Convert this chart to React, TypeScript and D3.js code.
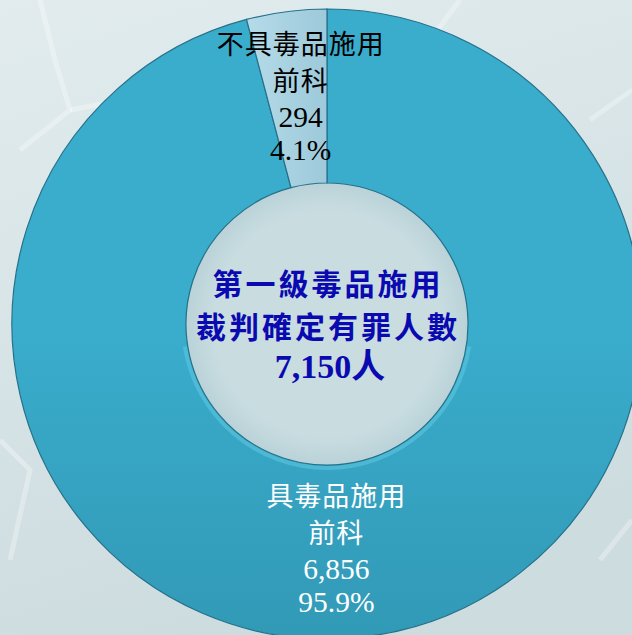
import React, { useRef, useEffect } from 'react'
import * as d3 from 'd3'

// 資料
const categories = ['具毒品施用前科', '不具毒品施用前科']
const labelLines = [
  ['具毒品施用', '前科'],
  ['不具毒品施用', '前科'],
]
const values = [6856, 294]
const percents = ['95.9%', '4.1%']
const centerLines = ['第一級毒品施用', '裁判確定有罪人數', '7,150人']

const W = 632
const H = 635

export default function App() {
  const svgRef = useRef<SVGSVGElement>(null)

  useEffect(() => {
    if (!svgRef.current) return
    const svg = d3.select(svgRef.current)
    svg.selectAll('*').remove()

    const cx = 327
    const cy = 324
    const outerR = 315
    const innerR = 141

    const defs = svg.append('defs')
    const bg = defs.append('linearGradient').attr('id', 'bg')
      .attr('x1', 0).attr('y1', 0).attr('x2', 0.3).attr('y2', 1)
    bg.append('stop').attr('offset', 0).attr('stop-color', '#e2ecee')
    bg.append('stop').attr('offset', 1).attr('stop-color', '#cddcdf')

    const big = defs.append('linearGradient').attr('id', 'big')
      .attr('gradientUnits', 'userSpaceOnUse')
      .attr('x1', 0).attr('y1', cy - outerR).attr('x2', 0).attr('y2', cy + outerR)
    big.append('stop').attr('offset', 0).attr('stop-color', '#3aaccc')
    big.append('stop').attr('offset', 0.5).attr('stop-color', '#3199b6')
    big.append('stop').attr('offset', 1).attr('stop-color', '#27849d')

    const small = defs.append('linearGradient').attr('id', 'small')
      .attr('x1', 0).attr('y1', 0).attr('x2', 1).attr('y2', 0)
    small.append('stop').attr('offset', 0).attr('stop-color', '#b5dbe8')
    small.append('stop').attr('offset', 1).attr('stop-color', '#9dc9da')

    const hole = defs.append('radialGradient').attr('id', 'hole')
    hole.append('stop').attr('offset', 0.8).attr('stop-color', '#c9dde1')
    hole.append('stop').attr('offset', 1).attr('stop-color', '#b9d2d8')

    svg.append('rect').attr('width', W).attr('height', H).attr('fill', 'url(#bg)')

    // 背景淡白色線條
    const bgLines = [
      [[40, 0], [55, 60], [70, 110], [20, 150]],
      [[70, 110], [150, 95], [210, 70]],
      [[460, 0], [430, 40], [390, 60]],
      [[590, 120], [632, 90]],
      [[0, 440], [30, 470], [10, 560]],
      [[600, 560], [632, 520]],
    ]
    svg.append('g').selectAll('path').data(bgLines).join('path')
      .attr('d', d => d3.line()(d as [number, number][]))
      .attr('fill', 'none').attr('stroke', '#ffffff').attr('stroke-opacity', 0.3)
      .attr('stroke-width', 5)

    const pie = d3.pie<number>().sort(null).value(d => d)
    const arcs = pie(values)
    const arc = d3.arc<d3.PieArcDatum<number>>().innerRadius(innerR).outerRadius(outerR)

    const g = svg.append('g').attr('transform', `translate(${cx},${cy})`)

    g.append('circle').attr('r', innerR).attr('fill', 'url(#hole)')

    const fills = ['url(#big)', 'url(#small)']
    g.selectAll('path.slice').data(arcs).join('path')
      .attr('class', 'slice')
      .attr('d', arc)
      .attr('fill', (_, i) => fills[i])
      .attr('stroke', '#25718a')
      .attr('stroke-width', 1.2)

    // 內緣亮邊
    g.append('path')
      .attr('d', d3.arc()({ innerRadius: innerR + 1, outerRadius: innerR + 5, startAngle: Math.PI * 0.55, endAngle: Math.PI * 1.45 }) as string)
      .attr('fill', '#5cc6e0').attr('opacity', 0.6)

    // 標籤
    const labelColors = ['#ffffff', '#000000']
    const nudge = [[-20, 0], [3, 0]]
    const offsets = [-44, -7, 29, 62]
    arcs.forEach((a, i) => {
      const [x, y] = arc.centroid(a)
      const lines = [...labelLines[i], d3.format(',')(values[i]), percents[i]]
      const t = g.append('text')
        .attr('text-anchor', 'middle')
        .attr('font-family', '"Liberation Serif", "Noto Sans CJK TC", serif')
        .attr('fill', labelColors[i])
      lines.forEach((s, j) => {
        t.append('tspan')
          .attr('x', x + nudge[i][0])
          .attr('y', y + nudge[i][1] + offsets[j])
          .attr('font-size', j < 2 ? 27 : 29.5)
          .attr('letter-spacing', j < 2 ? 1 : 0)
          .text(s)
      })
    })

    // 中央文字
    const ct = g.append('text')
      .attr('text-anchor', 'middle')
      .attr('font-family', '"Liberation Serif", "Noto Sans CJK TC", serif')
      .attr('font-weight', 'bold')
      .attr('fill', '#0a0ab0')
    const cyOff = [-29, 14, 54]
    centerLines.forEach((s, j) => {
      ct.append('tspan').attr('x', j === 2 ? 3 : 1).attr('y', cyOff[j])
        .attr('font-size', j < 2 ? 30 : 34)
        .attr('letter-spacing', j < 2 ? 3 : 0).text(s)
    })
  }, [])

  return (
    <svg
      ref={svgRef}
      width={W}
      height={H}
      style={{ position: 'absolute', left: 0, top: 0, display: 'block' }}
      aria-label={categories.join(', ')}
    />
  )
}
